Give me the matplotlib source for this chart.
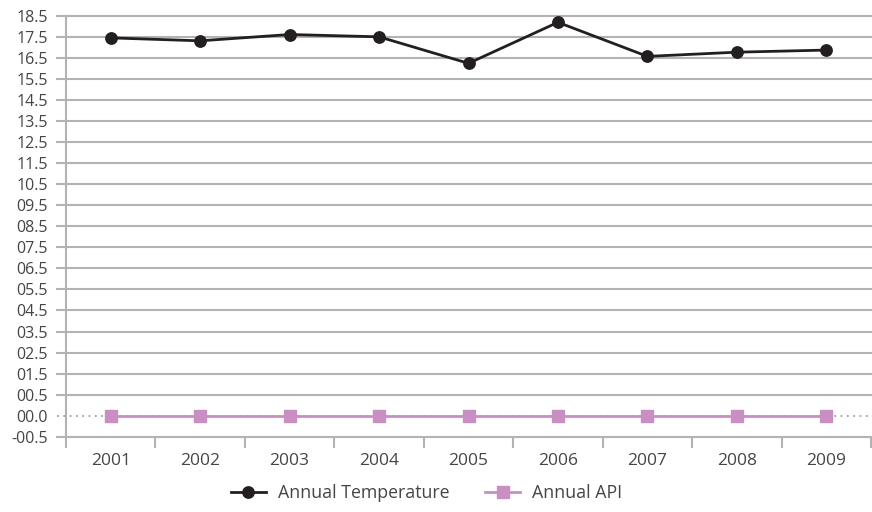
import numpy as np
import matplotlib
matplotlib.use("Agg")
import matplotlib.pyplot as plt


##### DATA #####

years       = ["2001", "2002", "2003", "2004", "2005", "2006", "2007", "2008", "2009"]
temperature = [17.46, 17.32, 17.62, 17.51, 16.25, 18.20, 16.58, 16.78, 16.88]
api         = [0.0, 0.0, 0.0, 0.0, 0.0, 0.0, 0.0, 0.0, 0.0]

yTicks      = [18.5 - i for i in range(19)] + [0.0, -0.5]
yTickLabels = [f"{t:04.1f}" for t in yTicks[:-1]] + ["-00.5"]


##### STYLE #####

plt.rcParams['font.family'] = ['Open Sans', 'DejaVu Sans']
textColor = "#454545"
gridColor = "#b3b3b3"
tempColor = "#231f20"
apiColor  = "#c98fc3"


# The bottom half-unit is stretched to the same height as a full unit
def forward(v):
    v = np.asarray(v, dtype=float)
    return np.where(v >= 0.5, v, 2 * v - 0.5)

def inverse(u):
    u = np.asarray(u, dtype=float)
    return np.where(u >= 0.5, u, (u + 0.5) / 2)


##### FIGURE #####

fig = plt.figure(figsize=(8.72, 5.12), dpi=100)
ax = fig.add_axes([66 / 872, 1 - 436.7 / 512, 805 / 872, (436.7 - 16) / 512])

ax.set_yscale('function', functions=(forward, inverse))
ax.set_ylim(-0.5, 18.5)
ax.set_xlim(0.5, len(years) + 0.5)

x = np.arange(1, len(years) + 1)

# Horizontal grid lines, stretching a little left of the axis
for t in yTicks:
    if t == 0.0:
        ax.plot([-0.011, 1], [t, t], transform=ax.get_yaxis_transform(),
                color="#a0a0a0", lw=1.3, ls=(0, (1, 2.5)), clip_on=False, zorder=1)
    else:
        ax.plot([-0.011, 1], [t, t], transform=ax.get_yaxis_transform(),
                color=gridColor, lw=1.5, clip_on=False, zorder=1)

# Series
ax.plot(x, temperature, color=tempColor, lw=2.0, marker='o', markersize=8.2,
        label="Annual Temperature", zorder=4)
ax.plot(x, api, color=apiColor, lw=2.0, marker='s', markersize=8.5,
        label="Annual API", zorder=3)

# Spines
for side in ['top', 'right']:
    ax.spines[side].set_visible(False)
ax.spines['left'].set_color(gridColor)
ax.spines['left'].set_linewidth(1.5)
ax.spines['bottom'].set_visible(False)

# Y ticks
ax.set_yticks(yTicks)
ax.set_yticklabels(yTickLabels)
ax.tick_params(axis='y', length=0, pad=13, labelsize=11.5, labelcolor=textColor)

# X ticks: labels at categories, tick marks between them
ax.set_xticks(x)
ax.set_xticklabels(years)
ax.set_xticks(np.arange(0.5, len(years) + 1, 1.0), minor=True)
ax.tick_params(axis='x', which='major', length=0, pad=12, labelsize=12.5, labelcolor=textColor)
ax.tick_params(axis='x', which='minor', length=8, width=1.5, color=gridColor, direction='out')
ax.xaxis.set_ticks_position('bottom')

# Legend
leg = fig.legend(loc='center', bbox_to_anchor=(0.489, 0.037), ncol=2, frameon=False,
                 fontsize=12.8, handlelength=2.0, handletextpad=0.65, columnspacing=2.0)
for text in leg.get_texts():
    text.set_color(textColor)

fig.savefig('out.png', dpi=100)
